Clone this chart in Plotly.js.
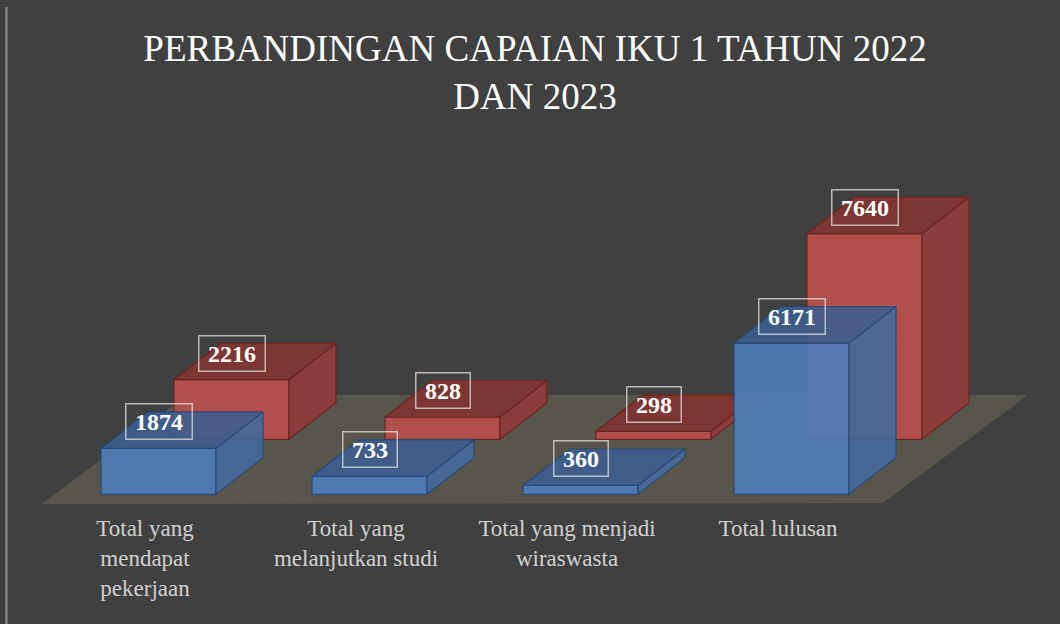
<!DOCTYPE html>
<html>
<head>
<meta charset="utf-8">
<script src="https://cdn.plot.ly/plotly-3.0.1.min.js"></script>
<style>html,body{margin:0;padding:0;background:#404040;}#chart{width:1060px;height:624px;}</style>
</head>
<body>
<div id="chart"></div>
<script>
// ---- data ----
const categories = ['Total yang mendapat pekerjaan', 'Total yang melanjutkan studi', 'Total yang menjadi wiraswasta', 'Total lulusan'];
const tickLabels = ['Total yang<br>mendapat<br>pekerjaan', 'Total yang<br>melanjutkan studi', 'Total yang menjadi<br>wiraswasta', 'Total lulusan'];
const seriesNames = ['2022', '2023'];
const values2022 = [1874, 733, 360, 6171];
const values2023 = [2216, 828, 298, 7640];
const chartTitle = 'PERBANDINGAN CAPAIAN IKU 1 TAHUN 2022<br>DAN 2023';

// ---- layout geometry (pixels) ----
const W = 1060, H = 624;
const M = {l: 0, r: 0, t: 0, b: 112};
const plotW = W - M.l - M.r, plotH = H - M.t - M.b;
const pxPerCat = 211, firstCenterPx = 158.5;
const barPx = 115, depthXPx = 47, depthYPx = 36.5, backShiftPx = 73;
const frontBasePx = 494.3, backBasePx = 439.3;       // baseline positions (from page top)
const frontScale = 0.0245, backScale = 0.02691;      // px per unit (perspective)
const labelShiftPx = -13.5;

const x0 = -(firstCenterPx - M.l) / pxPerCat;
const xRange = [x0, x0 + plotW / pxPerCat];
function yRange(basePx, scale) {
  const y0 = -((M.t + plotH) - basePx) / scale;
  return [y0, y0 + plotH / scale];
}
const halfW = barPx / pxPerCat / 2;
const dX = depthXPx / pxPerCat;
const backShift = backShiftPx / pxPerCat;

const blue = {front: '#4d7ebb', top: '#3d5e8f', side: '#46699d', edge: '#27497a'};
const red  = {front: '#b14f4b', top: '#7c3634', side: '#8b3d3b', edge: '#6c2422'};

function boxTraces(vals, shift, scale, col, yaxis, name, opacity) {
  const dY = depthYPx / scale;
  const xs = vals.map((_, i) => i + shift);
  const tx = [], ty = [], sx = [], sy = [];
  vals.forEach((v, i) => {
    const c = xs[i];
    tx.push(c - halfW, c + halfW, c + halfW + dX, c - halfW + dX, c - halfW, null);
    ty.push(v, v, v + dY, v + dY, v, null);
    sx.push(c + halfW, c + halfW, c + halfW + dX, c + halfW + dX, c + halfW, null);
    sy.push(0, v, v + dY, dY, 0, null);
  });
  return [
    {type: 'bar', x: xs, y: vals, width: barPx / pxPerCat, yaxis: yaxis, name: name,
     marker: {color: col.front, line: {color: col.edge, width: 1.2}}, opacity: opacity,
     hoverinfo: 'skip', showlegend: false},
    {type: 'scatter', mode: 'lines', x: sx, y: sy, yaxis: yaxis, fill: 'toself',
     fillcolor: col.side, line: {color: col.edge, width: 1.2}, opacity: opacity,
     hoverinfo: 'skip', showlegend: false},
    {type: 'scatter', mode: 'lines', x: tx, y: ty, yaxis: yaxis, fill: 'toself',
     fillcolor: col.top, line: {color: col.edge, width: 1.2}, opacity: opacity,
     hoverinfo: 'skip', showlegend: false}
  ];
}

const data = [].concat(
  boxTraces(values2023, backShift, backScale, red, 'y', seriesNames[1], 1),
  boxTraces(values2022, 0, frontScale, blue, 'y2', seriesNames[0], 0.9)
);

function valueLabels(vals, shift, yref) {
  return vals.map((v, i) => ({
    x: i + shift, y: v, xref: 'x', yref: yref, yshift: 26.5, yanchor: 'middle', xanchor: 'center',
    text: '<b>' + v + '</b>', showarrow: false,
    font: {family: 'Liberation Serif', size: 24, color: '#ffffff'},
    width: 12 * String(v).length + 9, borderpad: 4,
    bordercolor: 'rgba(225,225,225,0.75)', borderwidth: 1.5
  }));
}

// floor parallelogram (pixel corners -> paper coordinates)
function px2paper(px, py) { return [(px - M.l) / plotW, (M.t + plotH - py) / plotH]; }
const floorPx = [[42, 504], [883, 503], [1028, 395], [187, 395]];
const floorPath = floorPx.map((p, i) => { const q = px2paper(p[0], p[1]); return (i ? 'L' : 'M') + q[0] + ',' + q[1]; }).join(' ') + ' Z';
const borderA = px2paper(6.5, 7), borderB = px2paper(6.5, H);

const layout = {
  width: W, height: H,
  margin: M,
  paper_bgcolor: '#404040', plot_bgcolor: 'rgba(0,0,0,0)',
  showlegend: false,
  barmode: 'overlay',
  title: {text: chartTitle, x: 535 / W, xref: 'container', xanchor: 'center',
          y: 1 - 61 / H, yref: 'container', yanchor: 'top',
          font: {family: 'Liberation Serif', size: 37, color: '#ffffff'}},
  xaxis: {range: xRange, showgrid: false, zeroline: false, showline: false, ticks: '',
          tickvals: categories.map((_, i) => i + labelShiftPx / pxPerCat), ticktext: tickLabels,
          tickfont: {family: 'Liberation Serif', size: 23, color: '#d0d0d0'}, fixedrange: true},
  yaxis: {range: yRange(backBasePx, backScale), visible: false, fixedrange: true},
  yaxis2: {range: yRange(frontBasePx, frontScale), overlaying: 'y', visible: false, fixedrange: true},
  shapes: [
    {type: 'path', xref: 'paper', yref: 'paper', path: floorPath, fillcolor: '#58554b', line: {width: 0}, layer: 'below'},
    {type: 'line', xref: 'paper', yref: 'paper', x0: borderA[0], y0: borderA[1], x1: borderB[0], y1: borderB[1],
     line: {color: '#8e8e8e', width: 2}}
  ],
  annotations: [].concat(valueLabels(values2023, backShift, 'y'), valueLabels(values2022, 0, 'y2'))
};

Plotly.newPlot('chart', data, layout, {displayModeBar: false, staticPlot: true});
</script>
</body>
</html>
